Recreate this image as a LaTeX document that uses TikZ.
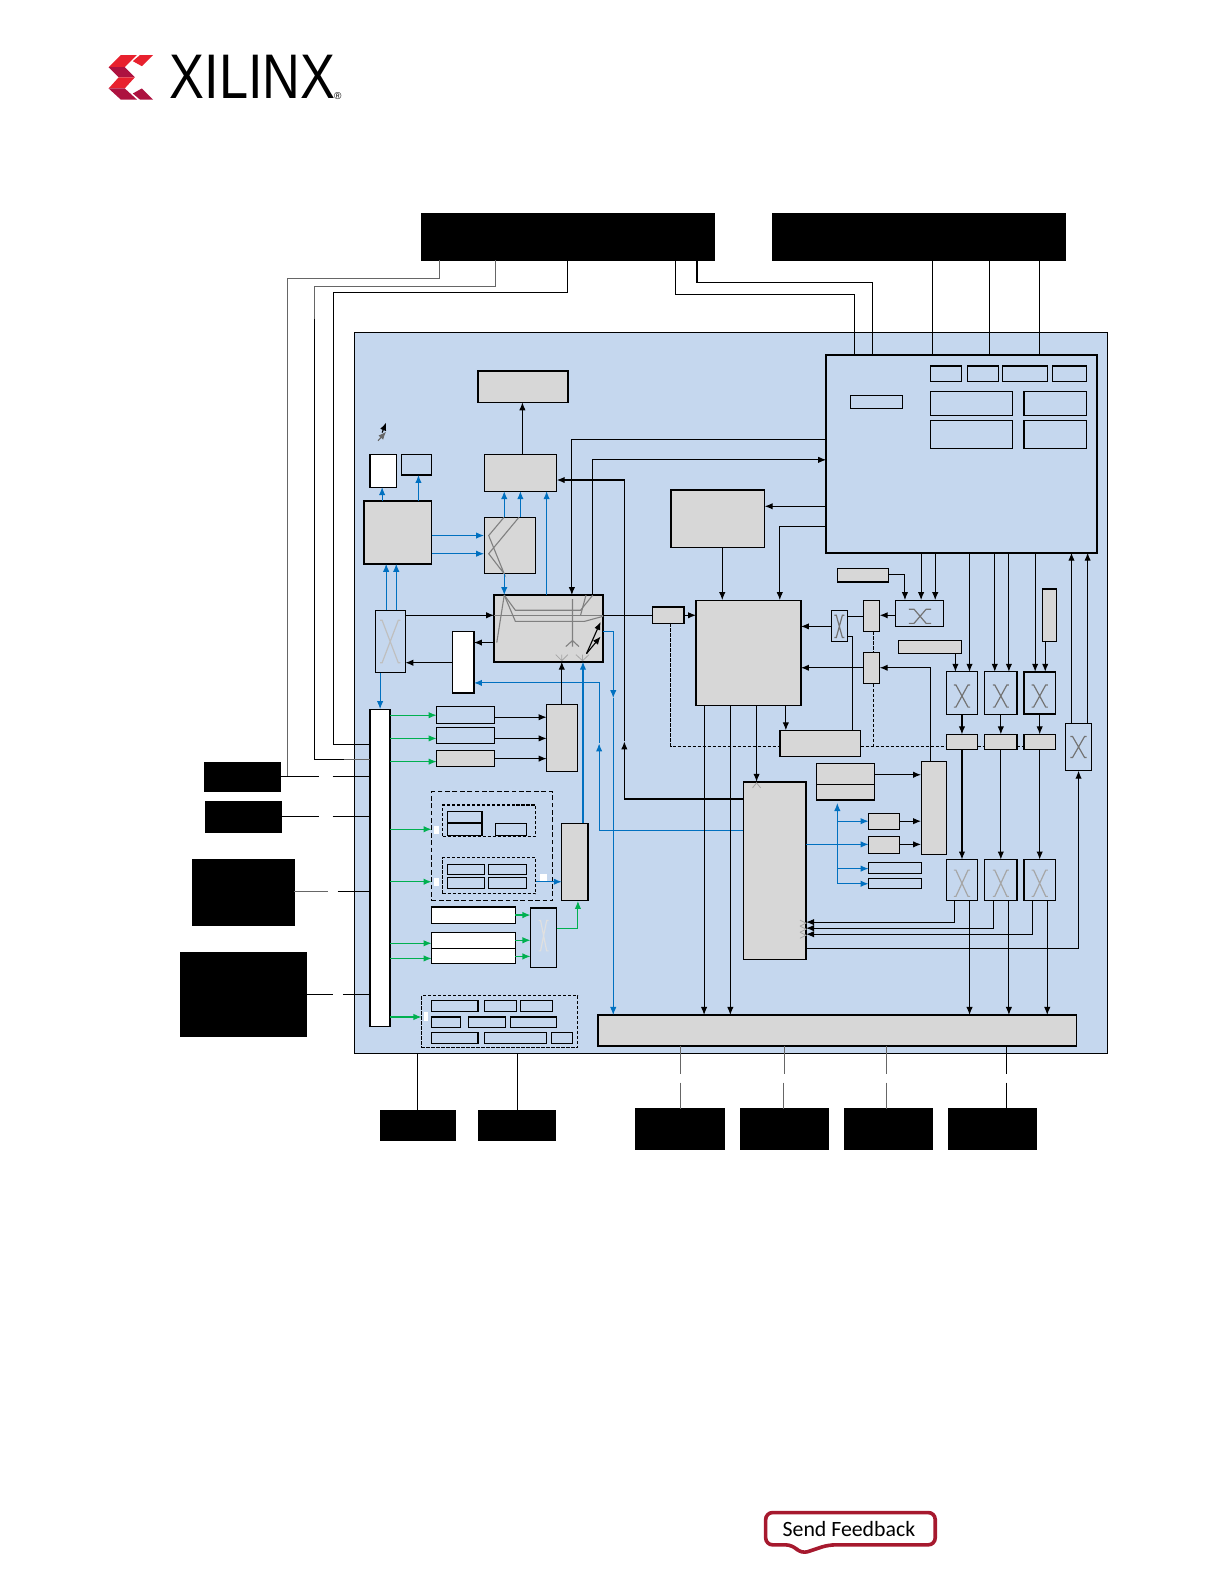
\documentclass[tikz,border=0pt]{standalone}
\usepackage{fontspec}
\usepackage{xcolor}
\usetikzlibrary{arrows.meta,shapes,calc}
\newfontfamily\logofont{Liberation Sans}
\newfontfamily\btnfont{Carlito}
\definecolor{panelblue}{HTML}{C5D7EE}
\definecolor{blockgray}{HTML}{D7D7D7}
\definecolor{linkblue}{HTML}{0070C0}
\definecolor{linkgreen}{HTML}{00B050}
\definecolor{logored}{HTML}{E8212E}
\definecolor{logodark}{HTML}{AD1240}
\definecolor{btnred}{HTML}{A6192E}
\newcommand{\blk}[6][plainbox]{\node[#1, minimum width={(#5-#3)*0.5047pt}, minimum height={(#6-#4)*0.5047pt}] (#2) at ({(#3+#5)/2},{(#4+#6)/2}) {};}
% switch mark: centre x, centre y, half width, half height, colour
\newcommand{\swx}[5]{\draw[#5, line width=.6pt] (#1-#3-2,#2-#4) -- (#1-#3,#2-#4) -- (#1+#3,#2+#4) -- (#1+#3+2,#2+#4) (#1+#3+2,#2-#4) -- (#1+#3,#2-#4) -- (#1-#3,#2+#4) -- (#1-#3-2,#2+#4);}
\tikzset{
  plainbox/.style={draw, line width=.55pt, inner sep=0pt, outer sep=0pt},
  midbox/.style={plainbox, line width=.75pt},
  boldbox/.style={plainbox, line width=1.15pt},
  graybox/.style={plainbox, fill=blockgray},
  midgray/.style={midbox, fill=blockgray},
  boldgray/.style={plainbox, line width=.95pt, fill=blockgray},
  whitebox/.style={plainbox, fill=white},
  blackbox/.style={plainbox, fill=black},
  dashbox/.style={plainbox, dash pattern=on 1.6pt off .9pt},
  coarsebox/.style={plainbox, dash pattern=on 2.4pt off 1.3pt},
  conn/.style={line width=.55pt},
  softconn/.style={line width=.55pt, black!60},
  arr/.style={conn, -{Latex[length=4pt,width=3.2pt]}},
  bluearr/.style={arr, linkblue},
  greenarr/.style={arr, linkgreen},
  dashconn/.style={conn, dash pattern=on 1.6pt off .9pt},
  inner/.style={line width=.55pt, black!50},
  patch/.style={fill=white}
}
\begin{document}
\begin{tikzpicture}[x=0.5047pt,y=-0.5047pt]
    \useasboundingbox (-0.6,-0.6) rectangle (1212,1568.8);

    % Logo
    \fill[logored] (107,66) -- (119,54) -- (135,54) -- (123,66) -- cycle;
    \fill[logodark] (107,66) -- (123,66) -- (133,76) -- (117,76) -- cycle;
    \fill[logored] (107,87) -- (117,76) -- (133,76) -- (123,87) -- cycle;
    \fill[logodark] (107,87) -- (123,87) -- (135,98) -- (119,98) -- cycle;
    \fill[logored] (138,54) -- (151,54) -- (140,65) -- (131,60) -- cycle;
    \fill[logodark] (131,92) -- (140,87) -- (151,98) -- (138,98) -- cycle;
    \node[inner sep=0pt, xscale=.83, transform shape, font=\logofont\fontsize{31.5}{32}\selectfont] (logotext) at (249.5,76) {XILINX};
    \node[inner sep=0pt, font=\logofont\fontsize{5}{5}\selectfont] (logomark) at (334,94.5) {®};

    % Panel
    \blk[plainbox, fill=panelblue]{panel}{350.5}{328.5}{1096.5}{1043.5}

    % Black blocks
    \blk[blackbox]{topA}{417}{211}{707}{257}
    \blk[blackbox]{topB}{765}{211}{1055}{257}
    \blk[blackbox]{leftA}{202}{755}{277}{784}
    \blk[blackbox]{leftB}{203}{794}{278}{824}
    \blk[blackbox]{leftC}{190}{851}{291}{916}
    \blk[blackbox]{leftD}{178}{943}{303}{1026}
    \blk[blackbox]{botA}{376}{1100}{451}{1129}
    \blk[blackbox]{botB}{474}{1100}{550}{1129}
    \blk[blackbox]{botC}{629}{1098}{717}{1138}
    \blk[blackbox]{botD}{733}{1098}{820}{1138}
    \blk[blackbox]{botE}{836}{1098}{923}{1138}
    \blk[blackbox]{botF}{939}{1098}{1026}{1138}

    % System block
    \blk[boldbox]{sys}{818}{351}{1086}{547}
    \blk{sysA}{921}{362}{952}{377}
    \blk{sysB}{958}{362}{989}{377}
    \blk{sysC}{993}{362}{1037}{377}
    \blk{sysD}{1042}{362}{1076}{377}
    \blk{sysE}{921}{387}{1003}{411}
    \blk{sysF}{1014}{387}{1076}{411}
    \blk{sysG}{921}{416}{1003}{444}
    \blk{sysH}{1014}{416}{1076}{444}
    \blk{sysI}{842}{391}{894}{404}

    % Left column blocks
    \blk[midgray]{disp}{473}{367}{562}{398}
    \blk[whitebox]{whtA}{366}{450}{392}{482}
    \blk{bluA}{397}{450}{427}{470}
    \blk[midgray]{gfx}{360}{496}{427}{558}
    \blk[graybox]{dpc}{479}{450}{551}{486}
    \blk[graybox]{mux}{479}{512}{530}{568}
    \blk[boldgray]{hub}{489}{589}{597}{655}
    \blk{swL}{371}{604}{401}{666}
    \blk[whitebox]{whtB}{448}{625}{469}{686}
    \blk[whitebox]{bus}{366}{702}{386}{1016}
    \draw[line width=.9pt] (bus.north east) -- (bus.south east);

    % Peripheral blocks
    \blk{perA}{432}{699}{489}{716}
    \blk{perB}{432}{720}{489}{736}
    \blk[graybox]{perC}{432}{743}{489}{759}
    \blk[graybox]{perG}{541}{697}{572}{764}
    \blk[coarsebox]{outer}{427}{784}{547}{892}
    \blk[dashbox]{grpA}{438}{797}{530}{828}
    \blk{grpAa}{443}{803}{477}{814}
    \blk{grpAb}{443}{815}{477}{827}
    \blk{grpAc}{490}{815}{521}{827}
    \blk[dashbox]{grpB}{438}{849}{530}{885}
    \blk{grpBa}{443}{856}{479}{866}
    \blk{grpBb}{483}{856}{521}{866}
    \blk{grpBc}{443}{869}{479}{880}
    \blk{grpBd}{483}{869}{521}{880}
    \blk[graybox]{perH}{556}{815}{582}{892}
    \blk[whitebox]{wideA}{427}{898}{510}{914}
    \blk[whitebox]{wideB}{427}{923}{510}{939}
    \blk[whitebox]{wideC}{427}{939}{510}{954}
    \blk{swM}{525}{899}{551}{958}
    \blk[dashbox]{grpC}{417}{986}{572}{1037}
    \blk{cA}{427}{991}{473}{1002}
    \blk{cB}{479}{991}{511}{1002}
    \blk{cC}{515}{991}{547}{1002}
    \blk{cD}{427}{1007}{456}{1017}
    \blk{cE}{464}{1007}{500}{1017}
    \blk{cF}{505}{1007}{551}{1017}
    \blk{cG}{427}{1022}{473}{1033}
    \blk{cH}{479}{1022}{541}{1033}
    \blk{cI}{546}{1022}{567}{1033}
    \fill[patch] (429,818) rectangle (434,826);
    \fill[patch] (429,869) rectangle (434,877);
    \fill[patch] (534,865) rectangle (541,872);
    \fill[patch] (419,1002) rectangle (423,1011);

    % Centre blocks
    \blk[midgray]{rpu}{664}{485}{757}{542}
    \blk[midgray]{tag}{646}{601}{677}{617}
    \blk[graybox]{core}{689}{594}{793}{698}
    \blk{swS}{823}{604}{839}{635}
    \blk[graybox]{cfgA}{855}{594}{871}{625}
    \blk[graybox]{cfgB}{855}{646}{871}{677}
    \blk{swT}{887}{594}{934}{620}
    \blk[graybox]{lblA}{829}{563}{880}{576}
    \blk[graybox]{lblB}{890}{634}{952}{647}
    \blk[graybox]{lblC}{1032}{583}{1046}{635}
    \blk[midgray]{ctrl}{772}{723}{852}{749}
    \blk[boldgray]{mem}{736}{774}{798}{950}
    \blk[graybox]{stack}{808}{756}{866}{792}
    \draw[conn] (stack.west |- 0,777) -- (stack.east |- 0,777);
    \blk[graybox]{smA}{860}{805}{891}{821}
    \blk[graybox]{smB}{860}{828}{891}{845}
    \blk{smC}{860}{854}{912}{865}
    \blk{smD}{860}{870}{912}{880}
    \blk[graybox]{col}{912}{754}{937}{846}
    \blk[boldgray]{ddr}{592}{1005}{1066}{1036}

    % Switch rows
    \blk{swUa}{937}{665}{968}{707}
    \blk{swUb}{975}{665}{1007}{707}
    \blk[midbox]{swUc}{1014}{665}{1045}{707}
    \blk[graybox]{midA}{937}{727}{968}{742}
    \blk[graybox]{midB}{975}{727}{1007}{742}
    \blk[graybox]{midC}{1014}{727}{1045}{742}
    \blk{swDa}{937}{851}{968}{892}
    \blk{swDb}{975}{851}{1007}{892}
    \blk{swDc}{1014}{851}{1045}{892}
    \blk{swR}{1055}{716}{1081}{763}

    % Switch marks
    \swx{952.5}{689}{6}{11}{black!55}
    \swx{991}{689}{6}{11}{black!55}
    \swx{1029.5}{689}{6}{11}{black!55}
    \swx{952.5}{874.5}{6}{13}{black!35}
    \swx{991}{874.5}{6}{13}{black!35}
    \swx{1029.5}{874.5}{6}{13}{black!35}
    \swx{1068}{739.5}{6}{10.5}{black!55}
    \swx{831}{620}{3}{11}{black!55}
    \swx{386}{635}{8}{21}{black!25}
    \swx{538}{926.5}{3}{15}{black!12}
    \draw[black!55, line width=.6pt] (900,603) -- (905,603) -- (917,617) -- (922,617) (922,603) -- (917,603) -- (905,617) -- (900,617);

    % Lines inside the hub and the mux
    \draw[inner] (498.7,512) -- (483.6,530) -- (499,568) -- (483.6,548) -- (513.5,512);
    \draw[inner] (499,589) -- (491.6,636);
    \draw[inner] (499,589) -- (510,604) -- (574.6,604) -- (586.7,589);
    \draw[inner] (499,589) -- (510,615) -- (578.6,615) -- (597,610);
    \draw[inner] (489,609) -- (597,609);
    \draw[inner] (580,589) -- (574.6,609);
    \draw[inner] (566.6,593) -- (566.6,634) (560,640) -- (566.6,634) -- (573,640) (566.6,634) -- (566.6,640);
    \draw[black!35, line width=.4pt] (550,648) -- (556,654) -- (562,648) (556,648) -- (556,654);
    \draw[black!35, line width=.4pt] (570,648) -- (576.6,654) -- (583,648) (576.6,648) -- (576.6,654);
    \draw[black!35, line width=.4pt] (745,780) -- (749,775) -- (753,780);
    \foreach \fy in {914,920,926} {
      \draw[black!35, line width=.4pt] (792,\fy-3) -- (798,\fy) -- (792,\fy+3);
    }
    \draw[arr] (580.5,647) -- (594.5,615.5);
    \draw[arr] (580.5,647) -- (594.5,630);
    % small mark over the block
    \draw[arr, black!60] (374,436) -- (382,427);
    \draw[arr] (378,428) -- (382,418);

    % Links from the top blocks
    \draw[softconn] (435,0 |- topA.south) -- (435,275) -- (284,275) -- (284,769);
    \draw[softconn] (490,0 |- topA.south) -- (490,283) -- (311,283) -- (311,315);
    \draw[conn] (311,315) -- (311,752) -- (340,752);
    \draw[softconn] (340,752) -- (366,752);
    \draw[conn] (562,0 |- topA.south) -- (562,289) -- (330,289) -- (330,737) -- (330,737 -| bus.west);
    \draw[conn] (669,0 |- topA.south) -- (669,291) -- (846,291) -- (846,0 |- sys.north);
    \draw[conn] (690,0 |- topA.south) -- (690,279) -- (864,279) -- (864,0 |- sys.north);
    \draw[conn] (923,0 |- topB.south) -- (923,0 |- sys.north);
    \draw[conn] (980,0 |- topB.south) -- (980,0 |- sys.north);
    \draw[conn] (1029,0 |- topB.south) -- (1029,0 |- sys.north);

    % Links from the left blocks
    \draw[conn] (leftA.east |- 0,769) -- (315,769);
    \draw[conn] (329,769) -- (bus.west |- 0,769);
    \draw[conn] (leftB.east |- 0,808) -- (315,808);
    \draw[conn] (329,808) -- (bus.west |- 0,808);
    \draw[softconn] (leftC.east |- 0,883) -- (324,883);
    \draw[conn] (334,883) -- (bus.west |- 0,883);
    \draw[conn] (leftD.east |- 0,985) -- (329,985);
    \draw[conn] (339,985) -- (bus.west |- 0,985);

    % Links to the bottom blocks
    \draw[conn] (413,0 |- panel.south) -- (413,0 |- botA.north);
    \draw[conn] (512,0 |- panel.south) -- (512,0 |- botB.north);
    \draw[softconn] (674,0 |- ddr.south) -- (674,1063);
    \draw[softconn] (674,1072) -- (674,0 |- botC.north);
    \draw[softconn] (777,0 |- ddr.south) -- (777,1063);
    \draw[softconn] (776,1072) -- (776,0 |- botD.north);
    \draw[softconn] (878,0 |- ddr.south) -- (878,1063);
    \draw[softconn] (878,1072) -- (878,0 |- botE.north);
    \draw[conn] (997,0 |- ddr.south) -- (997,1063);
    \draw[conn] (997,1072) -- (997,0 |- botF.north);

    % Blue links
    \draw[bluearr] (378,0 |- gfx.north) -- (378,0 |- whtA.south);
    \draw[bluearr] (414,0 |- gfx.north) -- (414,0 |- bluA.south);
    \draw[bluearr] (499,0 |- mux.north) -- (499,0 |- dpc.south);
    \draw[bluearr] (515,0 |- mux.north) -- (515,0 |- dpc.south);
    \draw[bluearr] (541,0 |- hub.north) -- (541,0 |- dpc.south);
    \draw[bluearr] (gfx.east |- 0,530) -- (mux.west |- 0,530);
    \draw[bluearr] (gfx.east |- 0,548) -- (mux.west |- 0,548);
    \draw[bluearr] (499,0 |- mux.south) -- (499,0 |- hub.north);
    \draw[bluearr] (382,0 |- swL.north) -- (382,0 |- gfx.south);
    \draw[bluearr] (392,0 |- swL.north) -- (392,0 |- gfx.south);
    \draw[bluearr] (376,0 |- swL.south) -- (376,0 |- bus.north);
    \draw[bluearr] (hub.east |- 0,625) -- (607,625) -- (607,691);
    \draw[bluearr] (607,691) -- (607,0 |- ddr.north);
    \draw[bluearr] (mem.west |- 0,822) -- (593,822) -- (593,736);
    \draw[bluearr] (593,736) -- (593,676) -- (whtB.east |- 0,676);
    \draw[bluearr] (577,0 |- perH.north) -- (577,0 |- hub.south);
    \draw[bluearr] (grpB.east |- 0,873) -- (perH.west |- 0,873);
    \draw[bluearr] (829,875) -- (829,795);
    \draw[bluearr] (mem.east |- 0,836) -- (smB.west |- 0,836);
    \draw[bluearr] (829,813) -- (smA.west |- 0,813);
    \draw[bluearr] (829,860) -- (smC.west |- 0,860);
    \draw[bluearr] (829,875) -- (smD.west |- 0,875);

    % Green links
    \draw[greenarr] (bus.east |- 0,708) -- (perA.west |- 0,708);
    \draw[greenarr] (bus.east |- 0,731) -- (perB.west |- 0,731);
    \draw[greenarr] (bus.east |- 0,754) -- (perC.west |- 0,754);
    \draw[greenarr] (bus.east |- 0,821) -- (outer.west |- 0,821);
    \draw[greenarr] (bus.east |- 0,873) -- (outer.west |- 0,873);
    \draw[greenarr] (bus.east |- 0,934) -- (wideB.west |- 0,934);
    \draw[greenarr] (bus.east |- 0,949) -- (wideC.west |- 0,949);
    \draw[greenarr] (bus.east |- 0,1007) -- (grpC.west |- 0,1007);
    \draw[greenarr] (wideA.east |- 0,906) -- (swM.west |- 0,906);
    \draw[greenarr] (wideB.east |- 0,931) -- (swM.west |- 0,931);
    \draw[greenarr] (wideC.east |- 0,947) -- (swM.west |- 0,947);
    \draw[greenarr] (swM.east |- 0,919) -- (572,919) -- (572,0 |- perH.south);

    % Black links, left part
    \draw[arr] (517,0 |- dpc.north) -- (517,0 |- disp.south);
    \draw[arr] (swL.east |- 0,609) -- (hub.west |- 0,609);
    \draw[arr] (hub.west |- 0,636) -- (whtB.east |- 0,636);
    \draw[arr] (whtB.west |- 0,656) -- (swL.east |- 0,656);
    \draw[arr] (perA.east |- 0,710) -- (perG.west |- 0,710);
    \draw[arr] (perB.east |- 0,731) -- (perG.west |- 0,731);
    \draw[arr] (perC.east |- 0,751) -- (perG.west |- 0,751);
    \draw[arr] (556,0 |- perG.north) -- (556,0 |- hub.south);
    \draw[arr] (sys.west |- 0,435) -- (566,435) -- (566,0 |- hub.north);
    \draw[arr] (586,0 |- hub.north) -- (586,455) -- (sys.west |- 0,455);
    \draw[arr] (mem.west |- 0,791) -- (618,791) -- (618,734);
    \draw[arr] (618,734) -- (618,475) -- (dpc.east |- 0,475);
    \draw[conn] (hub.east |- 0,609) -- (tag.west |- 0,609);
    \draw[arr] (tag.east |- 0,609) -- (core.west |- 0,609);

    % Black links, centre
    \draw[arr] (sys.west |- 0,501) -- (rpu.east |- 0,501);
    \draw[arr] (sys.west |- 0,521) -- (772,521) -- (772,0 |- core.north);
    \draw[arr] (715,0 |- rpu.south) -- (715,0 |- core.north);
    \draw[arr] (swS.west |- 0,620) -- (core.east |- 0,620);
    \draw[arr] (cfgB.west |- 0,661) -- (core.east |- 0,661);
    \draw[conn] (swS.east |- 0,610) -- (cfgA.west |- 0,610);
    \draw[conn] (swS.east |- 0,630) -- (844,630) -- (844,0 |- ctrl.north);
    \draw[arr] (swT.west |- 0,609) -- (cfgA.east |- 0,609);
    \draw[arr] (921,0 |- col.north) -- (921,661) -- (cfgB.east |- 0,661);
    \draw[arr] (697,0 |- core.south) -- (697,0 |- ddr.north);
    \draw[arr] (723,0 |- core.south) -- (723,0 |- ddr.north);
    \draw[arr] (749,0 |- core.south) -- (749,0 |- mem.north);
    \draw[arr] (778,0 |- core.south) -- (778,0 |- ctrl.north);
    \draw[arr] (stack.east |- 0,767) -- (col.west |- 0,767);
    \draw[arr] (smA.east |- 0,813) -- (col.west |- 0,813);
    \draw[arr] (smB.east |- 0,836) -- (col.west |- 0,836);

    % Black links, right part
    \draw[conn] (lblA.east |- 0,569) -- (896,569);
    \draw[arr] (896,569) -- (896,0 |- swT.north);
    \draw[arr] (912,0 |- sys.south) -- (912,0 |- swT.north);
    \draw[arr] (926,0 |- sys.south) -- (926,0 |- swT.north);
    \draw[arr] (946,0 |- lblB.south) -- (946,0 |- swUa.north);
    \draw[arr] (960,0 |- sys.south) -- (960,0 |- swUa.north);
    \draw[arr] (985,0 |- sys.south) -- (985,0 |- swUb.north);
    \draw[arr] (999,0 |- sys.south) -- (999,0 |- swUb.north);
    \draw[arr] (1025,0 |- sys.south) -- (1025,0 |- swUc.north);
    \draw[arr] (1035,0 |- lblC.south) -- (1035,0 |- swUc.north);
    \draw[arr] (1061,0 |- swR.north) -- (1061,0 |- sys.south);
    \draw[arr] (1077,0 |- swR.north) -- (1077,0 |- sys.south);
    \draw[arr] (952.5,0 |- swUa.south) -- (952.5,0 |- midA.north);
    \draw[arr] (991,0 |- swUb.south) -- (991,0 |- midB.north);
    \draw[arr] (1029.5,0 |- swUc.south) -- (1029.5,0 |- midC.north);
    \draw[arr] (952.5,0 |- midA.south) -- (952.5,0 |- swDa.north);
    \draw[arr] (991,0 |- midB.south) -- (991,0 |- swDb.north);
    \draw[arr] (1029.5,0 |- midC.south) -- (1029.5,0 |- swDc.north);
    \draw[arr] (960,0 |- swDa.south) -- (960,0 |- ddr.north);
    \draw[arr] (999,0 |- swDb.south) -- (999,0 |- ddr.north);
    \draw[arr] (1037,0 |- swDc.south) -- (1037,0 |- ddr.north);
    \draw[arr] (945,0 |- swDa.south) -- (945,913) -- (mem.east |- 0,913);
    \draw[arr] (984,0 |- swDb.south) -- (984,919) -- (mem.east |- 0,919);
    \draw[arr] (1022,0 |- swDc.south) -- (1022,925) -- (mem.east |- 0,925);
    \draw[arr] (mem.east |- 0,939) -- (1068,939) -- (1068,0 |- swR.south);

    % Dashed links
    \draw[dashconn] (664,0 |- tag.south) -- (664,739) -- (ctrl.west |- 0,739);
    \draw[dashconn] (ctrl.east |- 0,739) -- (midA.west |- 0,739);
    \draw[dashconn] (midA.east |- 0,739) -- (midB.west |- 0,739);
    \draw[dashconn] (midB.east |- 0,739) -- (midC.west |- 0,739);
    \draw[dashconn] (865,0 |- cfgA.south) -- (865,0 |- cfgB.north);
    \draw[dashconn] (865,0 |- cfgB.south) -- (865,739);

    % Feedback button
    \draw[btnred, line width=1.8pt, fill=white, rounded corners=3.5pt] (758,1498) -- (926,1498) -- (926,1530) -- (820,1530) -- (793,1539) -- (785,1530) -- (758,1530) -- cycle;
    \node[inner sep=0pt, font=\btnfont\fontsize{10.9}{12}\selectfont] (feedback) at (840.5,1514) {Send Feedback};
\end{tikzpicture}
\end{document}
